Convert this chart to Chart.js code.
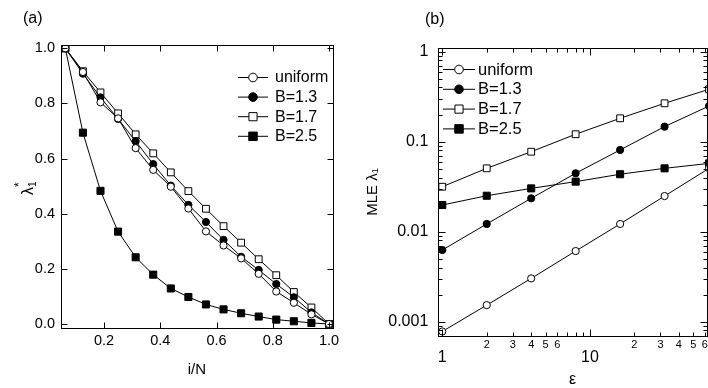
<!DOCTYPE html>
<html>
<head>
<meta charset="utf-8">
<script src="https://cdn.jsdelivr.net/npm/chart.js@4/dist/chart.umd.min.js"></script>
<style>
  html, body { margin: 0; padding: 0; background: #fff; }
  #wrap { position: relative; width: 708px; height: 388px; overflow: hidden; }
  .panel { position: absolute; top: 0; width: 354px; height: 388px; }
  #pa { left: 0; }
  #pb { left: 354px; }
  .tag { position: absolute; font: 16px "Liberation Sans", Arial, sans-serif; color: #000; }
</style>
</head>
<body>
<div id="wrap">
  <div class="panel" id="pa"><canvas id="chartA" width="354" height="388"></canvas></div>
  <div class="panel" id="pb"><canvas id="chartB" width="354" height="388"></canvas></div>
  <div class="tag" style="left:23px; top:9px;">(a)</div>
  <div class="tag" style="left:425px; top:10px;">(b)</div>
</div>
<script>
const FONT = "'Liberation Sans', Arial, sans-serif";

// panel (a): lambda_i* against i/N
const iN = [0.0625, 0.125, 0.1875, 0.25, 0.3125, 0.375, 0.4375, 0.5, 0.5625, 0.625, 0.6875, 0.75, 0.8125, 0.875, 0.9375, 1.0];
const uniformA = [1.0, 0.914, 0.804, 0.746, 0.638, 0.559, 0.498, 0.419, 0.336, 0.285, 0.238, 0.182, 0.118, 0.077, 0.035, 0.0];
const b13A = [1.0, 0.908, 0.822, 0.744, 0.663, 0.580, 0.502, 0.432, 0.370, 0.305, 0.244, 0.196, 0.145, 0.097, 0.042, 0.0];
const b17A = [1.0, 0.917, 0.840, 0.764, 0.688, 0.619, 0.550, 0.482, 0.418, 0.355, 0.295, 0.235, 0.177, 0.116, 0.060, 0.0];
const b25A = [1.0, 0.694, 0.483, 0.335, 0.242, 0.179, 0.129, 0.098, 0.071, 0.053, 0.039, 0.027, 0.016, 0.010, 0.004, 0.0];
const xTickA = [0.2, 0.4, 0.6, 0.8, 1.0];
const xLabelA = ["0.2", "0.4", "0.6", "0.8", "1.0"];
const yTickA = [0.0, 0.2, 0.4, 0.6, 0.8, 1.0];
const yLabelA = ["0.0", "0.2", "0.4", "0.6", "0.8", "1.0"];

// panel (b): MLE lambda_1 against epsilon, log-log
const epsB = [1, 2, 4, 8, 16, 32, 64];
const uniformB = [0.00078, 0.00153, 0.00303, 0.0061, 0.0122, 0.0249, 0.0506];
const b13B = [0.00626, 0.0122, 0.0235, 0.0446, 0.081, 0.147, 0.249];
const b17B = [0.0316, 0.0506, 0.0774, 0.121, 0.182, 0.267, 0.382];
const b25B = [0.0198, 0.0251, 0.0303, 0.036, 0.0435, 0.0506, 0.0574];
const xTickB = [1, 2, 3, 4, 5, 6, 10, 20, 30, 40, 50, 60];
const xLabelB = ["1", "2", "3", "4", "5", "6", "10", "2", "3", "4", "5", "6"];
const xMajorB = [1, 10];
const xMinorB = [2, 3, 4, 5, 6, 7, 8, 9, 20, 30, 40, 50, 60];
const yTickB = [0.001, 0.01, 0.1, 1];
const yLabelB = ["0.001", "0.01", "0.1", "1"];
const yMinorB = [0.0007, 0.0008, 0.0009, 0.002, 0.003, 0.004, 0.005, 0.006, 0.007, 0.008, 0.009,
  0.02, 0.03, 0.04, 0.05, 0.06, 0.07, 0.08, 0.09, 0.2, 0.3, 0.4, 0.5, 0.6, 0.7, 0.8, 0.9];

const seriesNames = ["uniform", "B=1.3", "B=1.7", "B=2.5"];
const markers = [
  { style: "circle", fill: "#fff", r: 3.6 },
  { style: "circle", fill: "#000", r: 3.6 },
  { style: "rect", fill: "#fff", r: 4.8 },
  { style: "rect", fill: "#000", r: 5.0 }
];

function makeSets(xs, ys, noClip) {
  return ys.map((vals, i) => ({
    label: seriesNames[i],
    data: vals.map((v, j) => ({ x: xs[j], y: v })),
    borderColor: "#000",
    borderWidth: 1,
    pointStyle: markers[i].style,
    pointRadius: markers[i].r,
    pointBackgroundColor: markers[i].fill,
    pointBorderColor: "#000",
    pointBorderWidth: 1,
    tension: 0,
    fill: false,
    clip: noClip ? false : undefined
  }));
}

function drawMarker(ctx, m, x, y, k) {
  ctx.beginPath();
  if (m.style === "circle") {
    ctx.arc(x, y, m.r * k, 0, Math.PI * 2);
  } else {
    const s = Math.SQRT1_2 * m.r * k;
    ctx.rect(x - s, y - s, 2 * s, 2 * s);
  }
  ctx.fillStyle = m.fill;
  ctx.fill();
  ctx.strokeStyle = "#000";
  ctx.lineWidth = 1;
  ctx.stroke();
}

// box round the plot with inward ticks on all four sides
const framePlugin = {
  id: "frame",
  afterDatasetsDraw(chart, args, o) {
    const ctx = chart.ctx, a = chart.chartArea;
    const xs = chart.scales.x, ys = chart.scales.y;
    const px = v => Math.round(xs.getPixelForValue(v)) + 0.5;
    const py = v => Math.round(ys.getPixelForValue(v)) + 0.5;
    const L = Math.round(a.left) + 0.5, R = Math.round(a.right) + 0.5;
    const T = Math.round(a.top) + 0.5, B = Math.round(a.bottom) + 0.5;
    ctx.save();
    ctx.strokeStyle = "#000";
    ctx.lineWidth = 1;
    ctx.strokeRect(L, T, R - L, B - T);
    ctx.beginPath();
    const xt = (vals, len) => vals.forEach(v => {
      const p = px(v);
      ctx.moveTo(p, B); ctx.lineTo(p, B - len);
      ctx.moveTo(p, T); ctx.lineTo(p, T + len);
    });
    const yt = (vals, len) => vals.forEach(v => {
      const p = py(v);
      ctx.moveTo(L, p); ctx.lineTo(L + len, p);
      ctx.moveTo(R, p); ctx.lineTo(R - len, p);
    });
    xt(o.xMajor || [], o.major);
    xt(o.xMinor || [], o.minor);
    yt(o.yMajor || [], o.major);
    yt(o.yMinor || [], o.minor);
    ctx.stroke();
    ctx.restore();
  },
  afterDraw(chart, args, o) {
    const ctx = chart.ctx;
    const lg = o.legend;
    if (lg) {
      ctx.save();
      ctx.font = lg.size + "px " + FONT;
      ctx.textBaseline = "middle";
      ctx.textAlign = "left";
      chart.data.datasets.forEach((ds, i) => {
        const y = lg.y + i * lg.dy;
        ctx.beginPath();
        ctx.moveTo(lg.x, y + 0.5);
        ctx.lineTo(lg.x + lg.len, y + 0.5);
        ctx.strokeStyle = "#000";
        ctx.lineWidth = 1;
        ctx.stroke();
        drawMarker(ctx, markers[i], lg.x + lg.len / 2, y + 0.5, 1.2);
        ctx.fillStyle = "#000";
        ctx.fillText(ds.label, lg.x + lg.len + lg.gap, y + 1);
      });
      ctx.restore();
    }
    if (o.lambdaTitle) {
      const t = o.lambdaTitle;
      ctx.save();
      ctx.translate(t.x, t.y);
      ctx.rotate(-Math.PI / 2);
      ctx.fillStyle = "#000";
      ctx.textAlign = "left";
      ctx.textBaseline = "alphabetic";
      ctx.font = "16px " + FONT;
      ctx.fillText("λ", -12, 5);
      const w = ctx.measureText("λ").width;
      ctx.font = "10px " + FONT;
      ctx.fillText("1", -12 + w, 8);
      ctx.font = "12px " + FONT;
      ctx.fillText("*", -12 + w, -5);
      ctx.restore();
    }
  }
};

function fixHeight(h) {
  return s => { s.height = h; s.paddingLeft = 0; s.paddingRight = 0; };
}
function fixWidth(w) {
  return s => { s.width = w; s.paddingTop = 0; s.paddingBottom = 0; };
}

new Chart(document.getElementById("chartA"), {
  type: "line",
  data: { datasets: makeSets(iN, [uniformA, b13A, b17A, b25A], false) },
  plugins: [framePlugin],
  options: {
    responsive: false,
    animation: false,
    layout: { autoPadding: false, padding: { top: 45, right: 20.7, left: 0, bottom: 0 } },
    plugins: {
      legend: { display: false },
      tooltip: { enabled: false },
      frame: {
        xMajor: xTickA, yMajor: yTickA, major: 6, minor: 3,
        legend: { x: 238, y: 77, dy: 19.6, len: 30, gap: 7, size: 16 },
        lambdaTitle: { x: 28, y: 183 }
      }
    },
    scales: {
      x: {
        type: "linear", min: 0.0453, max: 1.0153,
        afterBuildTicks: s => { s.ticks = xTickA.map(v => ({ value: v })); },
        afterFit: fixHeight(60.3),
        ticks: { callback: (v, i) => xLabelA[i], color: "#000", font: { family: FONT, size: 14.5 },
                 padding: 5, autoSkip: false, maxRotation: 0 },
        grid: { display: false, drawTicks: false },
        border: { display: false },
        title: { display: true, text: "i/N", color: "#000", font: { family: FONT, size: 15 },
                 padding: { top: 0, bottom: 9 } }
      },
      y: {
        type: "linear", min: -0.0134, max: 1.012,
        afterBuildTicks: s => { s.ticks = yTickA.map(v => ({ value: v })); },
        afterFit: fixWidth(60.5),
        ticks: { callback: (v, i) => yLabelA[i], color: "#000", font: { family: FONT, size: 14.5 },
                 padding: 5.5, autoSkip: false },
        grid: { display: false, drawTicks: false },
        border: { display: false }
      }
    }
  }
});

new Chart(document.getElementById("chartB"), {
  type: "line",
  data: { datasets: makeSets(epsB, [uniformB, b13B, b17B, b25B], true) },
  plugins: [framePlugin],
  options: {
    responsive: false,
    animation: false,
    layout: { autoPadding: false, padding: { top: 48.3, right: 1, left: 0, bottom: 0 } },
    plugins: {
      legend: { display: false },
      tooltip: { enabled: false },
      frame: {
        xMajor: xMajorB, xMinor: xMinorB, yMajor: yTickB, yMinor: yMinorB, major: 7, minor: 4,
        legend: { x: 89, y: 69, dy: 19.8, len: 32, gap: 3, size: 16.5 }
      }
    },
    scales: {
      x: {
        type: "logarithmic", min: 0.94, max: 62,
        afterBuildTicks: s => { s.ticks = xTickB.map(v => ({ value: v, major: xMajorB.includes(v) })); },
        afterFit: fixHeight(52.3),
        ticks: {
          callback: (v, i) => xMajorB.includes(v) ? ["", xLabelB[i]] : xLabelB[i],
          color: "#000",
          font: c => xMajorB.includes(c.tick && c.tick.value)
            ? { family: FONT, size: 16, lineHeight: "13px" }
            : { family: FONT, size: 11 },
          padding: 2.7, autoSkip: false, maxRotation: 0, major: { enabled: false }
        },
        grid: { display: false, drawTicks: false },
        border: { display: false },
        title: { display: true, text: "ε", color: "#000", font: { family: FONT, size: 16, lineHeight: 1 },
                 padding: { top: 0, bottom: 0.5 } }
      },
      y: {
        type: "logarithmic", min: 0.0007, max: 1.09,
        afterBuildTicks: s => { s.ticks = yTickB.map(v => ({ value: v })); },
        afterFit: fixWidth(84.3),
        ticks: { callback: (v, i) => yLabelB[i], color: "#000", font: { family: FONT, size: 16 },
                 padding: 10, autoSkip: false },
        grid: { display: false, drawTicks: false },
        border: { display: false },
        title: { display: true, text: "MLE λ₁", color: "#000", font: { family: FONT, size: 15 },
                 padding: { top: 9.5, bottom: 0 } }
      }
    }
  }
});
</script>
</body>
</html>
